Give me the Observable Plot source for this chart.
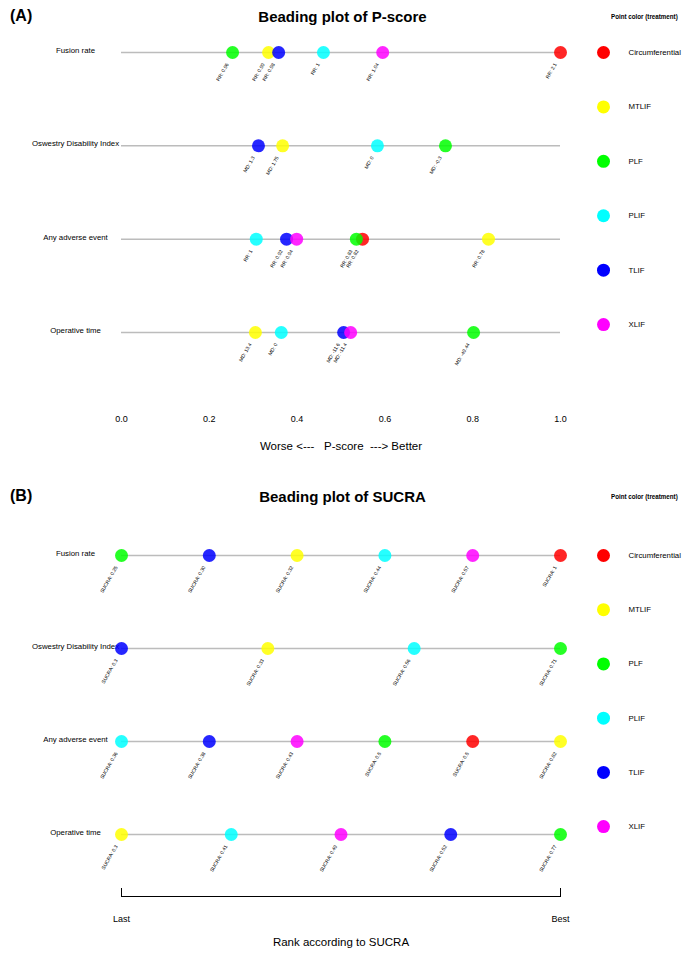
<!DOCTYPE html>
<html>
<head>
<meta charset="utf-8">
<script src="https://cdn.jsdelivr.net/npm/d3@7"></script>
<script src="https://cdn.jsdelivr.net/npm/@observablehq/plot@0.6"></script>
<style>
  body { margin: 0; background: #fff; font-family: "Liberation Sans", Arial, sans-serif; }
  #root { width: 685px; }
  .hdr { position: relative; height: 30px; }
  .tag { position: absolute; left: 10px; top: 7px; font-weight: bold; font-size: 16px; }
  .ttl { position: absolute; left: 0; width: 685px; text-align: center; top: 8px; font-weight: bold; font-size: 15px; }
  .leg { position: absolute; left: 611px; top: 12px; font-weight: bold; font-size: 7.6px; white-space: nowrap; transform: scaleX(0.82); transform-origin: left center; }
  svg { display: block; }
</style>
</head>
<body>
<div id="root"></div>
<script>
// ---------- data ----------
const treatments = ["Circumferential", "MTLIF", "PLF", "PLIF", "TLIF", "XLIF"];
const treatmentColors = ["#FF0000", "#FFFF00", "#00FF00", "#00FFFF", "#0000FF", "#FF00FF"];
const outcomes = ["Fusion rate", "Oswestry Disability Index", "Any adverse event", "Operative time"];

// Panel A: P-scores (order = treatments; null = not in network)
const pscoreFusion = [1.0, 0.335, 0.253, 0.46, 0.358, 0.595];
const effectFusion = ["RR: 2.1", "RR: 0.99", "RR: 0.96", "RR: 1", "RR: 0.98", "RR: 1.04"];
const pscoreODI = [null, 0.367, 0.738, 0.583, 0.312, null];
const effectODI = [null, "MD: 1.75", "MD: -0.3", "MD: 0", "MD: 1.3", null];
const pscoreAE = [0.549, 0.836, 0.535, 0.307, 0.376, 0.399];
const effectAE = ["RR: 0.82", "RR: 0.78", "RR: 0.83", "RR: 1", "RR: 0.92", "RR: 0.94"];
const pscoreOT = [null, 0.305, 0.802, 0.364, 0.506, 0.522];
const effectOT = [null, "MD: 13.4", "MD: -49.44", "MD: 0", "MD: -11.6", "MD: -11.4"];

// Panel B: SUCRA rank (1 = best) and values
const rankFusion = [1, 4, 6, 3, 5, 2];
const sucraFusion = ["1", "0.32", "0.25", "0.44", "0.30", "0.57"];
const rankODI = [null, 3, 1, 2, 4, null];
const sucraODI = [null, "0.33", "0.71", "0.56", "0.3", null];
const rankAE = [2, 1, 3, 6, 5, 4];
const sucraAE = ["0.5", "0.82", "0.5", "0.36", "0.38", "0.43"];
const rankOT = [null, 5, 1, 4, 2, 3];
const sucraOT = [null, "0.3", "0.77", "0.41", "0.52", "0.49"];

const pTicks = [0, 0.2, 0.4, 0.6, 0.8, 1.0];
const rankTickLabels = ["Last", "Best"];
const axisTitleA = "Worse <---   P-score  ---> Better";
const axisTitleB = "Rank according to SUCRA";

// ---------- tables ----------
const pscores = [pscoreFusion, pscoreODI, pscoreAE, pscoreOT];
const effects = [effectFusion, effectODI, effectAE, effectOT];
const ranks = [rankFusion, rankODI, rankAE, rankOT];
const sucras = [sucraFusion, sucraODI, sucraAE, sucraOT];

const rows = outcomes.map((o, i) => ({outcome: o, row: i}));
const pointsA = [], pointsB = [];
outcomes.forEach((o, i) => {
  const n = ranks[i].filter(r => r != null).length;
  treatments.forEach((t, j) => {
    if (pscores[i][j] != null) pointsA.push({outcome: o, row: i, treatment: t, value: pscores[i][j], label: effects[i][j]});
    if (ranks[i][j] != null) pointsB.push({outcome: o, row: i, treatment: t, value: (n - ranks[i][j]) / (n - 1), label: "SUCRA: " + sucras[i][j]});
  });
});
const legendStep = 0.583;
const legendRows = treatments.map((t, i) => ({treatment: t, ly: i * legendStep}));

const font = "Liberation Sans, Arial, sans-serif";

function header(tag, title) {
  const d = document.createElement("div");
  d.className = "hdr";
  d.innerHTML = `<div class="tag">${tag}</div><div class="ttl">${title}</div><div class="leg">Point color (treatment)</div>`;
  return d;
}

function commonMarks(points) {
  return [
    Plot.ruleY(rows, {y: "row", stroke: "#bcbcbc", strokeWidth: 1.5}),
    Plot.text(rows, {y: "row", text: "outcome", frameAnchor: "left", dx: -46, dy: -2, textAnchor: "middle", fontSize: 7.8}),
    Plot.dot(points, {x: "value", y: "row", fill: "treatment", r: 6.5, fillOpacity: 0.85}),
    Plot.text(points, {x: "value", y: "row", text: "label", rotate: -60, textAnchor: "end", dx: -5, dy: 11, fontSize: 5}),
    Plot.dot(legendRows, {y: "ly", fill: "treatment", r: 6.5, frameAnchor: "right", dx: 43}),
    Plot.text(legendRows, {y: "ly", text: "treatment", frameAnchor: "right", dx: 68, textAnchor: "start", fontSize: 7.8})
  ];
}

const plotA = Plot.plot({
  width: 685, height: 450,
  marginLeft: 121, marginRight: 125, marginTop: 0, marginBottom: 69,
  style: {background: "transparent", overflow: "visible", fontFamily: font, fontSize: "9px"},
  x: {domain: [0, 1], ticks: pTicks, tickFormat: d3.format(".1f"), tickSize: 0, tickPadding: 4, label: null},
  y: {domain: [0, 3], range: [22, 302], axis: null},
  color: {domain: treatments, range: treatmentColors},
  marks: [
    ...commonMarks(pointsA),
    Plot.text([axisTitleA], {text: d => d, frameAnchor: "bottom", dy: 38, fontSize: 11.5})
  ]
});

const plotB = Plot.plot({
  width: 685, height: 443,
  marginLeft: 121, marginRight: 125, marginTop: 0, marginBottom: 57,
  style: {background: "transparent", overflow: "visible", fontFamily: font, fontSize: "9px"},
  x: {domain: [0, 1], ticks: [0, 1], tickFormat: d => rankTickLabels[d], tickSize: -8, tickPadding: 27, line: true, label: null},
  y: {domain: [0, 3], range: [45, 324], axis: null},
  color: {domain: treatments, range: treatmentColors},
  marks: [
    ...commonMarks(pointsB),
    Plot.text([axisTitleB], {text: d => d, frameAnchor: "bottom", dy: 49, fontSize: 11.5})
  ]
});

const root = document.getElementById("root");
root.appendChild(header("(A)", "Beading plot of P-score"));
root.appendChild(plotA);
root.appendChild(header("(B)", "Beading plot of SUCRA"));
root.appendChild(plotB);
</script>
</body>
</html>
